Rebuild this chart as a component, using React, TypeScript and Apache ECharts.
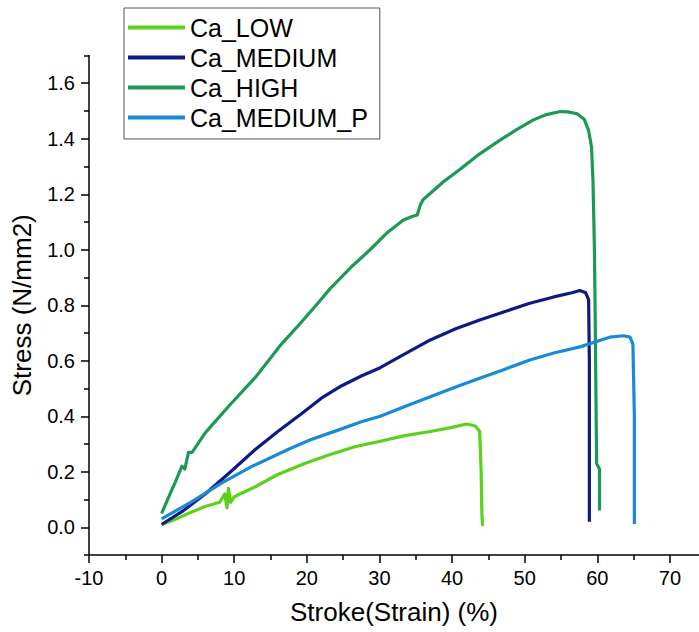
import React, { useEffect, useRef } from "react";
import * as echarts from "echarts";

const seriesNames = ["Ca_LOW", "Ca_MEDIUM", "Ca_HIGH", "Ca_MEDIUM_P"];
const seriesColors = ["#5ad11b", "#0e1a82", "#1c9a55", "#1a8ad8"];

const lowX = [0, 2, 3.7, 6, 8, 8.7, 9.0, 9.2, 9.5, 10, 12.9, 16, 19.7, 23, 26.6, 30.1, 33.5, 37, 40, 42, 43.2, 43.8, 44.0, 44.1, 44.2];
const lowY = [0.01, 0.03, 0.05, 0.075, 0.09, 0.12, 0.07, 0.14, 0.09, 0.11, 0.146, 0.19, 0.23, 0.26, 0.29, 0.31, 0.33, 0.345, 0.36, 0.372, 0.365, 0.345, 0.2, 0.05, 0.005];

const medX = [0, 3, 6, 9.5, 12.9, 16, 19.3, 22, 24.8, 27.5, 30.1, 33.5, 37, 40.5, 43.8, 47, 50.7, 54, 56.5, 57.6, 58.4, 58.8, 58.9, 58.9];
const medY = [0.01, 0.06, 0.12, 0.2, 0.28, 0.345, 0.41, 0.465, 0.51, 0.545, 0.575, 0.625, 0.675, 0.715, 0.747, 0.775, 0.807, 0.83, 0.845, 0.853, 0.845, 0.82, 0.6, 0.02];

const highX = [0, 1, 2, 2.8, 3.2, 3.7, 4.2, 6, 9.2, 12.9, 16.5, 18.6, 21.6, 23.2, 26, 28.7, 31, 33.3, 34.5, 35.2, 35.6, 36, 38.8, 41.1, 43.5, 46.6, 49, 51.2, 53, 54.9, 56, 57.2, 58.2, 58.8, 59.2, 59.4, 59.6, 59.7, 59.9, 60.3, 60.3];
const highY = [0.05, 0.11, 0.17, 0.22, 0.21, 0.27, 0.27, 0.34, 0.435, 0.54, 0.66, 0.72, 0.81, 0.86, 0.935, 1.0, 1.06, 1.107, 1.12, 1.125, 1.16, 1.18, 1.245, 1.29, 1.34, 1.395, 1.435, 1.468, 1.487, 1.498, 1.497, 1.49, 1.47, 1.43, 1.37, 1.25, 1.0, 0.77, 0.23, 0.21, 0.06];

const medPX = [0, 4, 8.3, 12.5, 17.4, 20.5, 24.3, 27.5, 30.1, 33.5, 37, 40.5, 43.8, 47, 50.7, 54, 57.6, 60, 61.7, 63.6, 64.5, 64.9, 65.1, 65.1];
const medPY = [0.03, 0.09, 0.16, 0.22, 0.28, 0.315, 0.35, 0.38, 0.4, 0.435, 0.47, 0.505, 0.537, 0.567, 0.603, 0.628, 0.65, 0.67, 0.685, 0.69, 0.685, 0.66, 0.4, 0.012];

const yMajorTicks = [0, 0.2, 0.4, 0.6, 0.8, 1.0, 1.2, 1.4, 1.6];
const yMinorTicks = [-0.1, 0.1, 0.3, 0.5, 0.7, 0.9, 1.1, 1.3, 1.5, 1.7];
const xMajorTicks = [-10, 0, 10, 20, 30, 40, 50, 60, 70];
const xMinorTicks = [-5, 5, 15, 25, 35, 45, 55, 65];

const xTitle = "Stroke(Strain) (%)";
const yTitle = "Stress (N/mm2)";

const zip = (xs: number[], ys: number[]) => xs.map((x, i) => [x, ys[i]]);

const FONT = "Arial, 'Liberation Sans', sans-serif";

export default function App() {
  const ref = useRef<HTMLDivElement>(null);
  useEffect(() => {
    if (!ref.current) return;
    const chart = echarts.init(ref.current, null, { renderer: "svg" });
    const dataSets = [zip(lowX, lowY), zip(medX, medY), zip(highX, highY), zip(medPX, medPY)];
    const axisLine = { show: true, onZero: false, lineStyle: { color: "#000", width: 1.5 } };
    const hiddenLine = { show: false, onZero: false };
    chart.setOption({
      animation: false,
      backgroundColor: "#fff",
      grid: { left: 89, right: 0, top: 55.5, bottom: 77, containLabel: false },
      legend: {
        orient: "vertical",
        left: 124,
        top: 8,
        data: seriesNames,
        icon: "rect",
        itemWidth: 57,
        itemHeight: 4,
        itemGap: 5,
        padding: [7, 12, 9, 4],
        borderColor: "#555",
        borderWidth: 1,
        backgroundColor: "#fff",
        textStyle: { fontSize: 25, fontFamily: FONT, color: "#000", lineHeight: 24 },
      },
      xAxis: [
        {
          type: "value",
          min: -10,
          max: 74,
          interval: 10,
          name: xTitle,
          nameLocation: "middle",
          nameGap: 44,
          nameTextStyle: { fontSize: 26, fontFamily: FONT, color: "#000" },
          axisLine,
          axisTick: { show: true, length: 8, customValues: xMajorTicks, lineStyle: { color: "#000", width: 1.5 } },
          axisLabel: { customValues: xMajorTicks, fontSize: 20, fontFamily: FONT, color: "#000", margin: 13 },
          splitLine: { show: false },
        },
        {
          type: "value",
          min: -10,
          max: 74,
          position: "bottom",
          axisLine: hiddenLine,
          axisTick: { show: true, length: 5, customValues: xMinorTicks, lineStyle: { color: "#000", width: 1.5 } },
          axisLabel: { show: false },
          splitLine: { show: false },
        },
      ],
      yAxis: [
        {
          type: "value",
          min: -0.1,
          max: 1.7,
          name: yTitle,
          nameLocation: "middle",
          nameGap: 54,
          nameTextStyle: { fontSize: 26, fontFamily: FONT, color: "#000" },
          axisLine,
          axisTick: { show: true, length: 8, customValues: yMajorTicks, lineStyle: { color: "#000", width: 1.5 } },
          axisLabel: {
            customValues: yMajorTicks,
            fontSize: 20,
            fontFamily: FONT,
            color: "#000",
            margin: 14,
            formatter: (v: number) => v.toFixed(1),
          },
          splitLine: { show: false },
        },
        {
          type: "value",
          min: -0.1,
          max: 1.7,
          position: "left",
          axisLine: hiddenLine,
          axisTick: { show: true, length: 5, customValues: yMinorTicks, lineStyle: { color: "#000", width: 1.5 } },
          axisLabel: { show: false },
          splitLine: { show: false },
        },
      ],
      series: seriesNames.map((name, i) => ({
        name,
        type: "line",
        data: dataSets[i],
        showSymbol: false,
        symbol: "none",
        color: seriesColors[i],
        lineStyle: { color: seriesColors[i], width: 3.2, join: "round" },
        xAxisIndex: 0,
        yAxisIndex: 0,
        z: 2,
      })),
    });
    return () => chart.dispose();
  }, []);
  return (
    <div
      ref={ref}
      style={{ position: "fixed", left: 0, top: 0, width: 699, height: 632, background: "#fff" }}
    />
  );
}
